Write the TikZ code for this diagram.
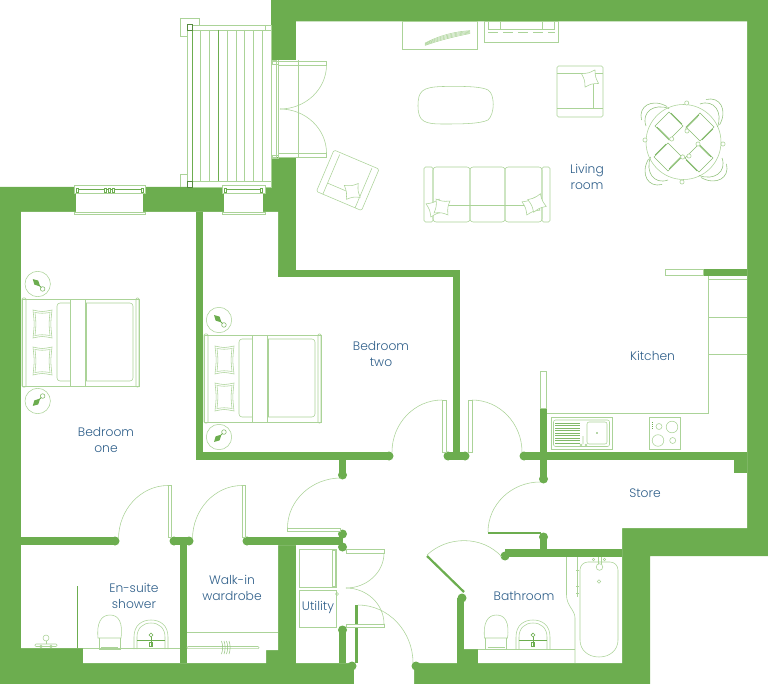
\documentclass[tikz,border=0pt]{standalone}
\usepackage{fontspec}
\usetikzlibrary{calc}
\setmainfont{Poppins Light}
\definecolor{wallc}{HTML}{6CAD4F}
\definecolor{thinc}{HTML}{ABD398}
\definecolor{textc}{HTML}{2F5F8A}
\newcommand{\qa}[6]{(#1,#2) .. controls ($(#1,#2)!.55!(#5,#6)$) and ($(#3,#4)!.55!(#5,#6)$) .. (#3,#4)}
\tikzset{
  thinl/.style={draw=thinc,line width=0.55pt},
  midl/.style={draw=wallc,line width=0.8pt},
  wall/.style={draw=wallc,line width=7.4pt},
  leafbox/.style={draw=thinc,line width=0.6pt,fill=white},
  wdot/.style={fill=wallc},
  lab/.style={text=textc,font=\fontsize{12.3}{15.5}\selectfont,align=center,inner sep=0pt},
  pillowp/.pic={
    \draw[thinl] (0,0) .. controls (9,2) .. (19,0) .. controls (17.5,14) .. (19,28) .. controls (9,26) .. (0,28) .. controls (1.5,14) .. (0,0) -- cycle;
    \draw[thinl] (2,2.5) .. controls (9,3.5) .. (17,2.5) .. controls (15.8,14) .. (17,25.5) .. controls (9,24.5) .. (2,25.5) .. controls (3.2,14) .. (2,2.5) -- cycle;
  },
  cushionp/.pic={
    \draw[thinl,fill=white] (-7,-7) .. controls (0,-5.5) .. (7,-7) .. controls (5.5,0) .. (7,7) .. controls (0,5.5) .. (-7,7) .. controls (-5.5,0) .. (-7,-7) -- cycle;
  },
  bedp/.pic={
    \draw[thinl] (0,0) rectangle (117,87);
    \draw[thinl,rounded corners=1pt] (0,-1) rectangle (4,88);
    \draw[thinl,rounded corners=1pt] (114,-1) rectangle (117,88);
    \draw[thinl,rounded corners=3pt] (35,4) rectangle (111,82);
    \draw[thinl,fill=white] (48,0) rectangle (63,87);
    \draw[thinl] (64,4) -- (64,82);
    \pic at (11,11) {pillowp};
    \pic at (11,48) {pillowp};
  },
  standp/.pic={
    \draw[thinl] (0,0) circle (12.7);
    \fill[wallc] (-7,0) -- (-2,-2.8) -- (3.5,0) -- (-2,2.8) -- cycle;
    \draw[wallc,line width=0.8pt] (3,0) -- (5,0);
    \draw[thinl,draw=wallc!85] (7,0) circle (2.3);
  },
  toiletp/.pic={
    \draw[thinl] (0,-11) .. controls (-1.5,-26) and (3,-34) .. (12,-34) .. controls (21,-34) and (25,-26) .. (23,-11) -- cycle;
    \draw[thinl] (1,-11) -- (1,0) -- (22,0) -- (22,-11);
    \draw[thinl] (3,-1.5) -- (20,-1.5);
  },
  basinp/.pic={
    \draw[thinl] (0,0) -- (0,-12) .. controls (0,-24) and (8,-29) .. (17,-29) .. controls (26,-29) and (34,-24) .. (34,-12) -- (34,0);
    \draw[thinl] (3,0) -- (3,-12) .. controls (3,-21) and (9,-26) .. (17,-26) .. controls (25,-26) and (31,-21) .. (31,-12) -- (31,0);
    \draw[midl,line width=0.5pt] (3,-9) -- (31,-9);
    \draw[thinl,draw=wallc] (17,-14) circle (1.9);
    \draw[wallc,line width=1pt] (17,-12) -- (17,-3);
    \draw[thinl,draw=wallc] (15.5,-7) rectangle (18.5,-3);
  },
  chairp/.pic={
    \draw[thinl,draw=wallc!80,line width=0.5pt] (-15,-30) -- (-1,-16) -- (-15,-2) -- (-29,-16) -- cycle;
    \draw[thinl,draw=wallc,line width=0.5pt] (-27,-15) -- (-14,-2);
    \draw[thinl,draw=wallc,line width=0.5pt] (-13,-29) -- (-2,-18);
    \draw[thinl,line width=0.45pt] (-25,-13.5) -- (-12.5,-1);
    \draw[thinl,draw=wallc!75] (-42.5,-22) .. controls (-46,-36) and (-32,-44) .. (-17,-35.5);
    \draw[thinl,draw=wallc!75] (-38,-16) .. controls (-43,-30) and (-30,-39) .. (-15,-33.5);
  },
}
\begin{document}
\begin{tikzpicture}[x=1pt,y=-1pt]
\useasboundingbox (0,0) rectangle (768,684);
% silhouette
\fill[wallc] (271,0) -- (768,0) -- (768,556) -- (650,556) -- (650,684) -- (414,684) -- (414,663) -- (354,663) -- (354,684) -- (0,684) -- (0,187) -- (271,187) -- cycle;
% interior
\fill[white] (296,21.5) -- (747,21.5) -- (747,528) -- (622,528) -- (622,663) -- (478,663) -- (478,649) -- (457,649) -- (457,663) -- (414,663) -- (414,684) -- (354,684) -- (354,663) -- (296,663) -- (296,545) -- (278,545) -- (278,650) -- (266,650) -- (266,663) -- (83,663) -- (83,648) -- (21,648) -- (21,212) -- (278,212) -- (278,277) -- (296,277) -- cycle;
% openings
\fill[white] (271,60) rectangle (297,157);
\fill[white] (76,192) rectangle (143,213);
\fill[white] (224,192) rectangle (263,213);
% internal walls
\draw[wall] (199.6,212) -- (199.6,456) -- (389,456);
\fill[wdot] (389,456) circle (4.5);
\draw[wall] (278,273.5) -- (456.5,273.5) -- (456.5,456);
\draw[wall] (448,456) -- (465,456);
\fill[wdot] (448,456) circle (4.5);
\fill[wdot] (465,456) circle (4.5);
\draw[wall] (21,541) -- (115,541);
\fill[wdot] (115,541) circle (4.5);
\draw[wall] (174,541) -- (189,541);
\fill[wdot] (174,541) circle (4.5);
\fill[wdot] (189,541) circle (4.5);
\draw[wall] (183.5,541) -- (183.5,663);
\draw[wall] (247,541) -- (343,541);
\fill[wdot] (247,541) circle (4.5);
\fill[wdot] (342.5,534) circle (4.5);
\fill[wdot] (342.5,547) circle (4.5);
\draw[wall] (342.5,456) -- (342.5,475);
\fill[wdot] (342.5,475) circle (4.5);
\draw[wall] (342.5,630) -- (342.5,663);
\fill[wdot] (342.5,630) circle (4.5);
\fill[wdot] (352,666) circle (4.5);
\fill[wdot] (416,666) circle (4.5);
\draw[wall] (460.5,598) -- (460.5,663);
\fill[wdot] (462,598) circle (4.5);
\draw[wall] (543.5,408) -- (543.5,479);
\fill[wdot] (543.5,479) circle (4.5);
\draw[wall] (524,456) -- (747,456);
\fill[wdot] (524,456) circle (4.5);
\fill[wallc] (734,459) rectangle (747,473);
\draw[wall] (543.5,538) -- (543.5,553);
\fill[wdot] (543.5,537) circle (4.5);
\draw[wall] (505,553) -- (622,553);
\fill[wdot] (505,556) circle (4.5);
\fill[wallc] (703,269) rectangle (747,276.5);
\draw[draw=wallc,line width=2.2pt] (427,556) -- (464,592);
\draw[draw=wallc,line width=2pt] (488,533) -- (541,533);
\draw[draw=wallc,line width=2.6pt] (356.5,605) -- (356.5,663);
\draw[midl] (77.5,586) -- (77.5,648);
% stubs
\draw[leafbox] (540.5,371) rectangle (546.5,408);
\draw[leafbox] (665.5,269.5) rectangle (703,275.5);
% doors
\draw[leafbox] (442,400) rectangle (446.5,452);
\draw[thinl] \qa{392}{452}{442}{400}{392}{400};
\draw[leafbox] (468,400) rectangle (472,452);
\draw[thinl] \qa{472}{400}{522}{452}{522}{400};
\draw[leafbox] (168,485.5) rectangle (171,537);
\draw[thinl] \qa{118.5}{539}{168}{485.5}{118.5}{485.5};
\draw[leafbox] (242,485.5) rectangle (245,537);
\draw[thinl] \qa{192.5}{539}{242}{485.5}{192.5}{485.5};
\draw[leafbox] (287.5,528) rectangle (340,531);
\draw[thinl] \qa{287.5}{528}{341}{478}{287.5}{478};
\draw[thinl] \qa{488}{532}{540}{482}{488}{482};
\draw[thinl] (427,555) .. controls (447,536) and (482,535) .. (502,557);
\draw[leafbox] (346,549.5) rectangle (384,553);
\draw[leafbox] (346,624) rectangle (384,627.5);
\draw[thinl] \qa{384}{553}{346}{588}{384}{588};
\draw[thinl] \qa{346}{588}{384}{624}{384}{588};
\draw[thinl] \qa{358}{605}{413}{663}{413}{605};
% living doors
\draw[leafbox] (271.5,60.5) rectangle (276,157);
\draw[thinl] (278.5,60.5) -- (278.5,157);
\draw[thinl] (298.3,60) -- (298.3,158);
\draw[leafbox,fill=none] (278,61) rectangle (326.5,65);
\draw[leafbox,fill=none] (278,153) rectangle (326.5,157.5);
\draw[thinl] \qa{326.5}{65}{280}{109}{326.5}{109};
\draw[thinl] \qa{280}{109}{326.5}{153}{326.5}{109};
\draw[thinl] (272,61) rectangle (278,64);
\draw[thinl] (272,155) rectangle (278,158);
% balcony
\draw[thinl] (180,18) -- (199,18) -- (199,25);
\draw[thinl] (180,18) -- (180,36) -- (187,36);
\draw[thinl] (180,187) -- (180,174) -- (187,174);
\draw[leafbox] (187,25) rectangle (271,30);
\draw[leafbox] (187,181) rectangle (271,187);
\foreach \x in {192,200.7,209.3,227.3,236,244.7,253.3,262.3,271}
  \draw[thinl] (\x,30) -- (\x,181);
\draw[thinl] (187,25) -- (187,187);
\draw[midl,line width=0.6pt] (218.3,30) -- (218.3,181);
\draw[midl,line width=0.6pt] (192,30) -- (192,181);
\draw[thinl] (265,25) -- (265,30);
\draw[draw=wallc!80!black,line width=0.9pt,fill=white] (187,24.5) rectangle (192.5,30.5);
\draw[draw=wallc!80!black,line width=0.9pt,fill=white] (187,181) rectangle (192.5,187);
% windows
\draw[leafbox] (74,185.5) rectangle (145,193);
\draw[thinl] (74,212) rectangle (145,214.5);
\draw[midl,line width=0.5pt] (77,189.5) -- (142,189.5);
\foreach \x in {76,104,108,112,141} \draw[thinl,draw=wallc,fill=white] (\x,188) rectangle (\x+2.4,192);
\draw[leafbox] (222,185.5) rectangle (265,193);
\draw[thinl] (222,212) rectangle (265,214.5);
\draw[midl,line width=0.5pt] (225,189.5) -- (262,189.5);
\foreach \x in {224,260} \draw[thinl,draw=wallc,fill=white] (\x,188) rectangle (\x+2.4,192);
% living furniture
\draw[thinl] (402,21.5) rectangle (477,49.3);
\foreach \d in {0,1.2,2.4,3.6,4.8} \draw[thinl,line width=0.5pt] (425,{45.5-\d*0.5}) .. controls (440,{40-\d}) and (455,{36.5-\d}) .. (470,{33.5-\d*0.6});
\draw[thinl] (484.5,21.5) rectangle (558,42);
\draw[thinl] (488,21.5) -- (488,29.5) -- (554,29.5) -- (554,21.5);
\draw[thinl] (500,21.5) -- (500,29.5);
\draw[thinl] (542.5,21.5) -- (542.5,29.5);
\draw[thinl,dash pattern=on 10pt off 5pt] (488,32.5) -- (555,32.5);
\draw[thinl] (443,86.5) .. controls (470,86) and (482,87) .. (488,90) .. controls (495,94) and (495,114) .. (488,120) .. controls (480,124) and (460,124) .. (443,124) .. controls (425,124) and (418,122) .. (418,106) .. controls (418,91) and (422,87) .. (443,86.5) -- cycle;
\begin{scope}[shift={(334,150)},rotate=-23]
  \draw[thinl,rounded corners=1.5pt] (0,0) rectangle (49,45);
  \draw[thinl] (7,2) -- (7,45);
  \draw[thinl] (42,2) -- (42,45);
  \draw[thinl] (7,33) -- (42,33);
  \pic[rotate=8] at (33,31) {cushionp};
\end{scope}
\draw[thinl,rounded corners=1.5pt] (557,66) rectangle (603,117);
\draw[thinl] (557,73) -- (603,73);
\draw[thinl] (557,108) -- (603,108);
\draw[thinl] (593.5,73) -- (593.5,108);
\pic[rotate=15] at (590,78.5) {cushionp};
% sofa
\draw[thinl,rounded corners=1.5pt] (424,167) rectangle (433,222);
\draw[thinl,rounded corners=1.5pt] (542,167) rectangle (550,222);
\draw[thinl,rounded corners=3pt] (433,167) rectangle (470,222);
\draw[thinl,rounded corners=3pt] (470,167) rectangle (505,222);
\draw[thinl,rounded corners=3pt] (505,167) rectangle (542,222);
\draw[thinl] (433,205) -- (542,205);
\pic[rotate=20] at (435,208) {cushionp};
\pic[rotate=-8] at (442,207) {cushionp};
\pic[rotate=20] at (531,206) {cushionp};
\pic[rotate=25] at (537,203) {cushionp};
% dining
\draw[thinl] (683.5,142) circle (37.5);
\foreach \r in {0,90,180,270}
  \pic[rotate=\r] at (684,142) {chairp};
\foreach \p/\q in {686.7/103,723/144,682/182,645/140,671.7/139,687/131,698/144,682.7/157,689/156}
  \draw[thinl,fill=white] (\p,\q) circle (2.1);
% beds
\pic at (22,299) {bedp};
\pic at (204,335) {bedp};
\pic[rotate=-45] at (37.7,284) {standp};
\pic[rotate=45] at (37.7,401) {standp};
\pic[rotate=-45] at (219,320) {standp};
\pic[rotate=45] at (219,437) {standp};
% kitchen
\draw[thinl] (708,276.5) -- (708,413.5) -- (547,413.5);
\draw[thinl] (708,279) -- (747,279);
\draw[thinl] (708,317) -- (747,317);
\draw[thinl] (708,354) -- (747,354);
\draw[thinl] (551,417.5) rectangle (612,449);
\draw[thinl,rounded corners=2pt] (553.5,420) rectangle (609.5,446.5);
\foreach \y in {423,425.5,428,430.5,433,435.5,438,440.5,443} \draw[thinl,draw=wallc!85,line width=0.6pt] (555,\y) -- (580,\y);
\draw[thinl,rounded corners=2pt] (587,422) rectangle (607,444);
\fill[wallc] (597,433) circle (0.8);
\draw[thinl] (583,436) -- (583,444) (581,445) circle (1) (586,445) circle (1);
\draw[thinl] (649,417.5) rectangle (680.5,449);
\draw[thinl] (659,426.5) circle (3);
\draw[thinl] (672,427) circle (5.8);
\draw[thinl] (658,440.5) circle (5.8);
\draw[thinl] (672.7,440.5) circle (3);
\foreach \y in {422,424,426,428} \fill[wallc] (651.5,\y) rectangle (652.8,\y+1);
% ensuite
\draw[thinl] (83,648.5) -- (180,648.5);
\pic at (98,649) {toiletp};
\pic at (134,649) {basinp};
\draw[thinl] (46,638) circle (3);
\draw[thinl] (46,641) -- (46,644);
\draw[thinl,rounded corners=1pt] (35,644) rectangle (57,646.5);
\draw[thinl] (41,646.5) circle (1.5) (51,646.5) circle (1.5);
% walk-in
\draw[thinl] (187,632) -- (278,632);
\draw[thinl,rounded corners=1pt] (187,646.5) rectangle (259,648.7);
\foreach \x in {221.5,224,226.5,229} \draw[thinl,draw=wallc!70] (\x,641) .. controls (\x+1.5,645) and (\x+1.5,650) .. (\x,654);
% utility
\draw[thinl] (299,549) rectangle (336,587);
\draw[thinl] (299,590) rectangle (336,627);
\draw[thinl] (332,550) rectangle (335.5,586);
\draw[thinl] (337,594) circle (1.5);
% bathroom
\draw[thinl] (478,649) -- (575,649);
\pic at (484.5,649) {toiletp};
\pic at (516,649) {basinp};
\draw[thinl] (566.5,557) -- (566.5,595) .. controls (566.5,606) and (575,610) .. (575,618) -- (575,663);
\draw[thinl] (577.5,557) -- (577.5,597);
\foreach \y in {570,586,593} \draw[thinl] (576,\y) -- (579,\y);
\draw[thinl,rounded corners=8pt] (580,640) -- (580,562) -- (618,562) -- (618,640);
\draw[thinl] (580,640) .. controls (580,650) and (588,657) .. (599,657) .. controls (610,657) and (618,650) .. (618,640);
\draw[thinl] (599.5,567) circle (3.3);
\draw[thinl] (599,581.5) circle (1.8);
\draw[thinl] (593.5,559.5) circle (1.2) (604.5,559.5) circle (1.2);
\draw[thinl] (598,557) -- (598,564) (601,557) -- (601,564);
% labels
\node[lab] (living) at (587,177) {Living\\room};
\node[lab] (btwo) at (381,354) {Bedroom\\two};
\node[lab] (bone) at (106,440) {Bedroom\\one};
\node[lab] (kitchen) at (652.5,356) {Kitchen};
\node[lab] (store) at (645,493) {Store};
\node[lab] (ensuite) at (134,596) {En-suite\\shower};
\node[lab] (walkin) at (232,588) {Walk-in\\wardrobe};
\node[lab] (utility) at (318,607) {Utility};
\node[lab] (bath) at (524,595.5) {Bathroom};
\end{tikzpicture}
\end{document}
